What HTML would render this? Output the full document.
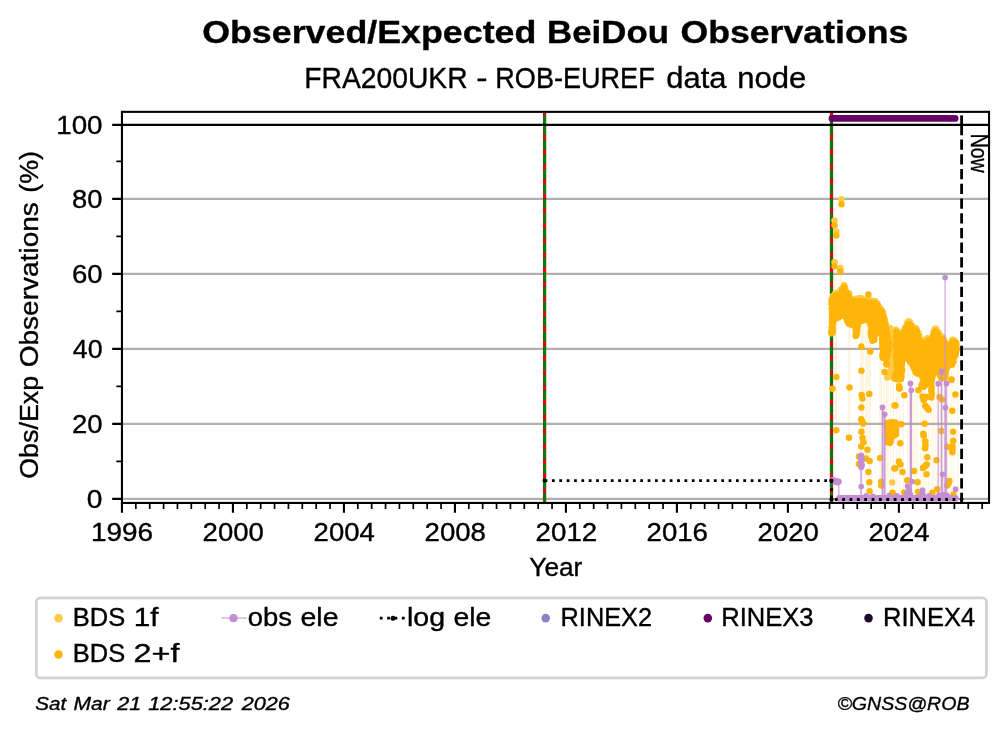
<!DOCTYPE html>
<html lang="en"><head><meta charset="utf-8"><title>Observed/Expected BeiDou Observations</title>
<style>
html,body{margin:0;padding:0;background:#fff;}
body{width:1008px;height:734px;overflow:hidden;}
svg{display:block;will-change:transform;font-family:"Liberation Sans",sans-serif;fill:#000;}
text{stroke:#000;stroke-width:.36px;stroke-linejoin:round;}
</style></head><body>
<svg width="1008" height="734" viewBox="0 0 1008 734">
<rect width="1008" height="734" fill="#fff"/>
<line x1="121.95" x2="989.05" y1="498.90" y2="498.90" stroke="#b0b0b0" stroke-width="2.1"/>
<line x1="121.95" x2="989.05" y1="423.90" y2="423.90" stroke="#b0b0b0" stroke-width="2.1"/>
<line x1="121.95" x2="989.05" y1="348.90" y2="348.90" stroke="#b0b0b0" stroke-width="2.1"/>
<line x1="121.95" x2="989.05" y1="273.90" y2="273.90" stroke="#b0b0b0" stroke-width="2.1"/>
<line x1="121.95" x2="989.05" y1="198.90" y2="198.90" stroke="#b0b0b0" stroke-width="2.1"/>
<line x1="544.6" x2="544.6" y1="112.9" y2="502" stroke="#E2001A" stroke-width="3.3"/>
<line x1="544.6" x2="544.6" y1="124.85" y2="115.4" stroke="#008000" stroke-width="2.8"/>
<line x1="544.6" x2="544.6" y1="124.85" y2="502.4" stroke="#008000" stroke-width="2.8" stroke-dasharray="10.28 4.44"/>
<line x1="831.5" x2="831.5" y1="112.9" y2="502" stroke="#E2001A" stroke-width="3.3"/>
<line x1="831.5" x2="831.5" y1="124.85" y2="115.4" stroke="#008000" stroke-width="2.8"/>
<line x1="831.5" x2="831.5" y1="124.85" y2="502.4" stroke="#008000" stroke-width="2.8" stroke-dasharray="10.28 4.44"/>
<path d="M835.3 322V430M836.5 322V430M848.8 322V437.5M849.6 322V437.5M860.8 322V464M862.0 322V464M863.1 322V446M866.0 322V458M867.4 322V450M869.0 322V491M870.4 322V482M879.8 350V485M881.3 350V485M884.1 350V493M886.5 372V493M888.0 372V482M890.8 372V493M841.4 205V300M836.4 236V300M834.5 226V300M840.4 272V300M893.6 352V498.9M896.8 352V498.9M899.6 352V498.9M903.4 352V498.9M907.8 352V498.9M910.2 352V498.9M912.6 352V498.9M915.2 352V498.9M917.6 352V498.9M920.8 352V498.9M923.4 352V498.9M925.8 352V498.9M928.4 352V498.9M931.2 352V498.9M933.6 352V498.9M936.0 352V498.9M939.8 352V498.9M943.6 352V498.9M946.0 352V498.9M948.8 352V498.9M951.2 352V498.9M953.8 352V498.9M957.6 352V498.9" stroke="#FDB50A" stroke-opacity="0.135" stroke-width="1.25" fill="none"/>
<polygon points="831.8,298.0 832.6,295.9 833.5,294.8 834.9,293.4 835.9,293.0 838.1,292.2 840.8,289.7 842.3,287.9 843.7,285.7 844.5,285.0 843.7,285.6 843.9,286.5 845.1,288.5 846.2,290.5 848.2,292.8 848.8,293.3 849.4,295.5 853.8,298.7 856.0,298.1 857.6,298.2 859.9,298.3 861.5,298.7 863.7,299.4 866.2,300.0 868.5,300.3 870.8,300.7 870.9,301.2 876.0,302.0 875.1,300.9 876.9,302.3 877.5,303.0 878.4,305.1 880.2,307.7 881.8,309.4 882.2,310.5 883.0,312.6 883.5,314.5 884.0,316.7 884.5,319.0 885.1,321.3 885.6,323.5 886.2,325.8 886.8,328.0 887.4,330.3 887.8,332.1 888.0,334.4 888.3,336.7 888.5,338.7 888.6,341.0 888.6,343.3 888.7,345.6 888.6,347.5 888.3,349.8 888.1,352.1 887.7,353.4 886.7,355.5 886.8,355.6 885.2,356.2 884.8,356.9 882.9,355.5 883.4,354.9 882.9,352.7 882.7,350.9 882.7,348.6 882.6,346.3 882.5,344.0 882.5,341.7 882.4,339.4 882.3,337.1 882.2,334.8 879.6,331.2 874.7,334.7 873.9,336.7 874.3,337.3 872.3,338.4 872.8,337.7 872.6,337.6 871.7,335.4 871.5,334.0 871.4,331.7 871.2,329.4 871.1,327.0 870.8,324.7 870.6,322.5 868.2,318.7 863.8,318.4 861.6,319.2 858.9,321.6 857.5,325.2 857.3,327.5 857.2,329.4 856.7,331.6 856.1,333.9 855.6,333.6 856.4,333.0 856.8,332.9 856.4,330.6 856.2,328.7 856.0,326.4 851.9,323.1 850.7,322.7 848.7,321.7 848.7,321.2 847.8,319.1 846.9,317.1 846.1,315.0 844.3,312.1 840.1,313.7 838.0,314.9 836.0,316.2 833.7,319.6 833.2,321.8 832.7,324.5 832.5,326.8 832.3,328.7 831.8,330.9 831.5,331.0 832.7,330.9 832.6,330.7 832.0,328.5 832.0,326.8 832.0,324.5 832.0,322.2 832.0,319.9 832.0,317.6 832.0,315.3 832.0,313.0 832.0,310.7 832.0,308.4 832.0,306.1 832.0,303.8 832.0,301.5 832.0,299.2" fill="#FFCB47" stroke="#FFCB47" stroke-width="2.5" stroke-linejoin="round"/>
<g fill="#FFCB47"><circle cx="831.8" cy="298.0" r="3.0"/><circle cx="832.7" cy="295.9" r="3.0"/><circle cx="833.9" cy="295.2" r="3.0"/><circle cx="834.8" cy="293.4" r="3.0"/><circle cx="835.9" cy="293.0" r="3.0"/><circle cx="838.1" cy="292.3" r="3.0"/><circle cx="840.5" cy="289.4" r="3.0"/><circle cx="842.3" cy="288.0" r="3.0"/><circle cx="843.9" cy="285.8" r="3.0"/><circle cx="844.7" cy="285.4" r="3.0"/><circle cx="844.0" cy="285.1" r="3.0"/><circle cx="844.1" cy="286.3" r="3.0"/><circle cx="845.6" cy="288.2" r="3.0"/><circle cx="845.8" cy="290.7" r="3.0"/><circle cx="848.0" cy="293.0" r="3.0"/><circle cx="849.5" cy="293.1" r="3.0"/><circle cx="848.8" cy="295.7" r="3.0"/><circle cx="854.0" cy="299.4" r="3.0"/><circle cx="856.1" cy="298.4" r="3.0"/><circle cx="857.6" cy="298.4" r="3.0"/><circle cx="859.9" cy="297.8" r="3.0"/><circle cx="861.6" cy="298.1" r="3.0"/><circle cx="863.7" cy="299.4" r="3.0"/><circle cx="866.3" cy="299.4" r="3.0"/><circle cx="868.6" cy="299.9" r="3.0"/><circle cx="870.8" cy="300.3" r="3.0"/><circle cx="871.4" cy="300.8" r="3.0"/><circle cx="876.0" cy="301.9" r="3.0"/><circle cx="875.1" cy="300.8" r="3.0"/><circle cx="876.6" cy="302.7" r="3.0"/><circle cx="877.4" cy="303.0" r="3.0"/><circle cx="878.2" cy="305.2" r="3.0"/><circle cx="880.2" cy="307.7" r="3.0"/><circle cx="881.6" cy="309.5" r="3.0"/><circle cx="882.2" cy="310.5" r="3.0"/><circle cx="883.3" cy="312.5" r="3.0"/><circle cx="882.9" cy="314.6" r="3.0"/><circle cx="883.4" cy="316.9" r="3.0"/><circle cx="884.1" cy="319.1" r="3.0"/><circle cx="884.8" cy="321.3" r="3.0"/><circle cx="885.9" cy="323.5" r="3.0"/><circle cx="886.6" cy="325.7" r="3.0"/><circle cx="887.1" cy="328.0" r="3.0"/><circle cx="888.0" cy="330.1" r="3.0"/><circle cx="887.4" cy="332.1" r="3.0"/><circle cx="888.1" cy="334.4" r="3.0"/><circle cx="887.8" cy="336.7" r="3.0"/><circle cx="888.7" cy="338.7" r="3.0"/><circle cx="887.9" cy="341.0" r="3.0"/><circle cx="888.1" cy="343.3" r="3.0"/><circle cx="889.4" cy="345.6" r="3.0"/><circle cx="889.0" cy="347.6" r="3.0"/><circle cx="887.7" cy="349.8" r="3.0"/><circle cx="888.1" cy="352.1" r="3.0"/><circle cx="887.1" cy="353.1" r="3.0"/><circle cx="886.8" cy="355.5" r="3.0"/><circle cx="887.0" cy="356.2" r="3.0"/><circle cx="885.2" cy="356.0" r="3.0"/><circle cx="885.0" cy="356.6" r="3.0"/><circle cx="882.7" cy="355.8" r="3.0"/><circle cx="882.8" cy="355.0" r="3.0"/><circle cx="882.7" cy="352.7" r="3.0"/><circle cx="883.4" cy="350.9" r="3.0"/><circle cx="883.0" cy="348.6" r="3.0"/><circle cx="882.1" cy="346.3" r="3.0"/><circle cx="882.2" cy="344.0" r="3.0"/><circle cx="881.9" cy="341.7" r="3.0"/><circle cx="881.8" cy="339.4" r="3.0"/><circle cx="882.7" cy="337.1" r="3.0"/><circle cx="881.8" cy="334.8" r="3.0"/><circle cx="879.7" cy="331.2" r="3.0"/><circle cx="874.7" cy="334.7" r="3.0"/><circle cx="874.3" cy="336.9" r="3.0"/><circle cx="874.2" cy="337.0" r="3.0"/><circle cx="872.5" cy="338.9" r="3.0"/><circle cx="872.9" cy="337.6" r="3.0"/><circle cx="872.1" cy="337.8" r="3.0"/><circle cx="871.6" cy="335.5" r="3.0"/><circle cx="871.1" cy="334.0" r="3.0"/><circle cx="871.0" cy="331.7" r="3.0"/><circle cx="871.9" cy="329.4" r="3.0"/><circle cx="871.5" cy="327.0" r="3.0"/><circle cx="870.6" cy="324.8" r="3.0"/><circle cx="871.1" cy="322.4" r="3.0"/><circle cx="868.0" cy="319.0" r="3.0"/><circle cx="863.8" cy="318.6" r="3.0"/><circle cx="861.5" cy="318.8" r="3.0"/><circle cx="858.8" cy="321.5" r="3.0"/><circle cx="858.1" cy="325.2" r="3.0"/><circle cx="856.7" cy="327.4" r="3.0"/><circle cx="857.6" cy="329.5" r="3.0"/><circle cx="857.0" cy="331.7" r="3.0"/><circle cx="855.8" cy="333.8" r="3.0"/><circle cx="855.7" cy="333.8" r="3.0"/><circle cx="856.3" cy="333.2" r="3.0"/><circle cx="856.2" cy="333.0" r="3.0"/><circle cx="855.8" cy="330.7" r="3.0"/><circle cx="856.3" cy="328.7" r="3.0"/><circle cx="855.7" cy="326.4" r="3.0"/><circle cx="851.9" cy="322.9" r="3.0"/><circle cx="850.7" cy="322.9" r="3.0"/><circle cx="848.7" cy="321.7" r="3.0"/><circle cx="849.3" cy="320.9" r="3.0"/><circle cx="847.7" cy="319.1" r="3.0"/><circle cx="847.0" cy="317.1" r="3.0"/><circle cx="846.6" cy="314.8" r="3.0"/><circle cx="844.0" cy="312.4" r="3.0"/><circle cx="840.3" cy="314.1" r="3.0"/><circle cx="837.6" cy="314.4" r="3.0"/><circle cx="835.8" cy="315.8" r="3.0"/><circle cx="834.0" cy="319.7" r="3.0"/><circle cx="833.6" cy="321.9" r="3.0"/><circle cx="832.4" cy="324.5" r="3.0"/><circle cx="831.9" cy="326.7" r="3.0"/><circle cx="832.7" cy="328.8" r="3.0"/><circle cx="831.2" cy="330.7" r="3.0"/><circle cx="831.2" cy="330.5" r="3.0"/><circle cx="832.8" cy="330.8" r="3.0"/><circle cx="832.5" cy="330.7" r="3.0"/><circle cx="831.5" cy="328.6" r="3.0"/><circle cx="831.4" cy="326.8" r="3.0"/><circle cx="832.6" cy="324.5" r="3.0"/><circle cx="831.6" cy="322.2" r="3.0"/><circle cx="832.3" cy="319.9" r="3.0"/><circle cx="831.7" cy="317.6" r="3.0"/><circle cx="832.5" cy="315.3" r="3.0"/><circle cx="832.1" cy="313.0" r="3.0"/><circle cx="831.7" cy="310.7" r="3.0"/><circle cx="831.5" cy="308.4" r="3.0"/><circle cx="832.3" cy="306.1" r="3.0"/><circle cx="831.4" cy="303.8" r="3.0"/><circle cx="831.6" cy="301.5" r="3.0"/><circle cx="832.1" cy="299.2" r="3.0"/></g>
<polygon points="896.1,337.9 896.3,335.6 896.4,334.0 897.3,331.9 897.5,331.0 895.8,329.6 897.5,331.1 897.7,332.2 903.5,331.1 904.2,329.2 905.2,327.1 906.2,325.2 907.3,323.2 908.0,322.1 908.5,321.5 909.3,321.4 909.7,322.0 910.6,323.6 911.7,325.7 915.8,327.9 915.7,327.8 916.5,328.8 917.2,331.0 918.1,333.4 919.0,335.5 920.2,337.8 925.2,339.7 927.4,338.6 929.4,337.7 932.5,335.1 933.5,333.1 934.4,330.6 934.9,329.4 935.0,328.7 936.0,328.7 936.0,329.0 937.2,330.8 938.3,332.6 940.5,335.8 942.5,336.9 942.9,337.1 943.8,339.2 944.5,341.2 950.1,343.4 951.5,341.5 952.7,340.1 953.3,339.5 954.1,339.5 954.9,340.1 955.6,341.0 956.2,342.3 956.4,344.6 956.4,346.4 956.3,348.7 956.1,350.5 955.6,352.7 954.9,353.7 953.6,356.9 953.1,359.2 952.6,360.5 952.2,361.6 951.9,362.4 947.3,364.7 946.7,367.0 946.1,369.4 945.7,371.7 945.3,374.0 944.6,375.0 944.9,375.3 942.7,375.7 941.6,375.7 941.4,375.8 940.3,373.8 939.8,372.3 939.2,370.1 933.4,371.1 932.9,373.3 932.4,375.6 931.9,377.8 931.9,377.2 931.6,377.1 930.6,376.9 925.9,375.3 924.8,375.9 922.5,375.9 922.4,375.4 922.3,374.5 918.5,371.7 917.3,371.4 915.4,370.1 915.4,369.5 914.4,367.0 913.3,365.0 912.1,362.8 910.8,360.9 909.8,359.0 904.2,357.2 902.5,360.4 902.1,362.6 901.8,364.9 901.7,367.6 901.6,369.9 901.6,372.2 901.5,373.8 900.9,376.0 900.6,376.4 900.3,376.9 898.0,376.9 897.2,376.6 896.5,376.5 895.6,374.4 895.7,373.5 896.0,371.3 896.6,370.6 897.4,366.7 897.2,364.4 897.1,362.0 896.8,359.7 896.6,357.5 896.4,355.2 896.1,352.9 896.1,350.8 896.1,348.5 896.1,346.2 896.1,343.9 896.1,341.6 896.1,339.3" fill="#FFCB47" stroke="#FFCB47" stroke-width="2.5" stroke-linejoin="round"/>
<g fill="#FFCB47"><circle cx="896.0" cy="337.9" r="3.0"/><circle cx="896.6" cy="335.6" r="3.0"/><circle cx="896.7" cy="334.1" r="3.0"/><circle cx="896.8" cy="331.7" r="3.0"/><circle cx="897.0" cy="330.4" r="3.0"/><circle cx="895.9" cy="329.5" r="3.0"/><circle cx="897.7" cy="330.9" r="3.0"/><circle cx="897.3" cy="332.4" r="3.0"/><circle cx="903.8" cy="331.2" r="3.0"/><circle cx="904.3" cy="329.3" r="3.0"/><circle cx="905.2" cy="327.2" r="3.0"/><circle cx="906.4" cy="325.4" r="3.0"/><circle cx="906.8" cy="323.0" r="3.0"/><circle cx="907.9" cy="322.0" r="3.0"/><circle cx="908.4" cy="321.0" r="3.0"/><circle cx="909.1" cy="321.9" r="3.0"/><circle cx="910.2" cy="321.7" r="3.0"/><circle cx="910.2" cy="323.8" r="3.0"/><circle cx="912.2" cy="325.4" r="3.0"/><circle cx="915.8" cy="328.2" r="3.0"/><circle cx="915.9" cy="327.7" r="3.0"/><circle cx="916.7" cy="328.8" r="3.0"/><circle cx="916.7" cy="331.2" r="3.0"/><circle cx="918.7" cy="333.1" r="3.0"/><circle cx="919.5" cy="335.3" r="3.0"/><circle cx="919.6" cy="338.1" r="3.0"/><circle cx="925.2" cy="339.7" r="3.0"/><circle cx="927.2" cy="338.1" r="3.0"/><circle cx="929.7" cy="338.3" r="3.0"/><circle cx="933.0" cy="335.4" r="3.0"/><circle cx="933.0" cy="332.8" r="3.0"/><circle cx="934.3" cy="330.5" r="3.0"/><circle cx="934.5" cy="329.0" r="3.0"/><circle cx="935.0" cy="328.5" r="3.0"/><circle cx="936.0" cy="328.8" r="3.0"/><circle cx="936.4" cy="328.7" r="3.0"/><circle cx="936.9" cy="330.9" r="3.0"/><circle cx="938.8" cy="332.4" r="3.0"/><circle cx="940.7" cy="335.4" r="3.0"/><circle cx="942.3" cy="337.3" r="3.0"/><circle cx="943.0" cy="337.1" r="3.0"/><circle cx="943.9" cy="339.2" r="3.0"/><circle cx="944.4" cy="341.2" r="3.0"/><circle cx="950.1" cy="343.4" r="3.0"/><circle cx="951.3" cy="341.4" r="3.0"/><circle cx="952.2" cy="339.6" r="3.0"/><circle cx="953.3" cy="339.8" r="3.0"/><circle cx="953.9" cy="340.1" r="3.0"/><circle cx="954.4" cy="340.6" r="3.0"/><circle cx="955.4" cy="341.1" r="3.0"/><circle cx="956.4" cy="342.3" r="3.0"/><circle cx="956.6" cy="344.6" r="3.0"/><circle cx="956.2" cy="346.4" r="3.0"/><circle cx="956.1" cy="348.7" r="3.0"/><circle cx="956.7" cy="350.6" r="3.0"/><circle cx="955.9" cy="352.8" r="3.0"/><circle cx="955.0" cy="353.9" r="3.0"/><circle cx="953.6" cy="356.9" r="3.0"/><circle cx="952.7" cy="359.1" r="3.0"/><circle cx="952.6" cy="360.5" r="3.0"/><circle cx="952.6" cy="362.2" r="3.0"/><circle cx="951.9" cy="361.9" r="3.0"/><circle cx="947.4" cy="364.8" r="3.0"/><circle cx="946.6" cy="366.9" r="3.0"/><circle cx="946.5" cy="369.5" r="3.0"/><circle cx="945.8" cy="371.7" r="3.0"/><circle cx="945.4" cy="374.0" r="3.0"/><circle cx="944.3" cy="374.8" r="3.0"/><circle cx="945.0" cy="375.9" r="3.0"/><circle cx="942.6" cy="375.7" r="3.0"/><circle cx="941.5" cy="376.1" r="3.0"/><circle cx="941.6" cy="375.7" r="3.0"/><circle cx="939.7" cy="374.1" r="3.0"/><circle cx="939.5" cy="372.4" r="3.0"/><circle cx="939.0" cy="370.1" r="3.0"/><circle cx="933.2" cy="371.0" r="3.0"/><circle cx="933.5" cy="373.5" r="3.0"/><circle cx="932.5" cy="375.6" r="3.0"/><circle cx="932.3" cy="377.9" r="3.0"/><circle cx="932.0" cy="377.5" r="3.0"/><circle cx="931.6" cy="377.2" r="3.0"/><circle cx="931.1" cy="376.4" r="3.0"/><circle cx="926.0" cy="375.3" r="3.0"/><circle cx="924.8" cy="375.3" r="3.0"/><circle cx="922.5" cy="376.4" r="3.0"/><circle cx="922.8" cy="374.9" r="3.0"/><circle cx="922.1" cy="374.6" r="3.0"/><circle cx="918.4" cy="372.1" r="3.0"/><circle cx="917.5" cy="371.1" r="3.0"/><circle cx="915.7" cy="369.6" r="3.0"/><circle cx="914.8" cy="369.7" r="3.0"/><circle cx="914.1" cy="367.2" r="3.0"/><circle cx="913.6" cy="364.8" r="3.0"/><circle cx="911.9" cy="363.0" r="3.0"/><circle cx="910.5" cy="361.1" r="3.0"/><circle cx="909.2" cy="359.4" r="3.0"/><circle cx="904.7" cy="357.6" r="3.0"/><circle cx="902.4" cy="360.3" r="3.0"/><circle cx="901.5" cy="362.5" r="3.0"/><circle cx="901.1" cy="364.8" r="3.0"/><circle cx="901.7" cy="367.6" r="3.0"/><circle cx="902.3" cy="369.9" r="3.0"/><circle cx="901.9" cy="372.2" r="3.0"/><circle cx="901.1" cy="373.7" r="3.0"/><circle cx="900.4" cy="375.9" r="3.0"/><circle cx="900.5" cy="376.2" r="3.0"/><circle cx="900.3" cy="377.3" r="3.0"/><circle cx="898.0" cy="376.9" r="3.0"/><circle cx="897.2" cy="376.6" r="3.0"/><circle cx="896.7" cy="376.4" r="3.0"/><circle cx="895.3" cy="374.6" r="3.0"/><circle cx="896.4" cy="373.6" r="3.0"/><circle cx="896.5" cy="371.3" r="3.0"/><circle cx="896.2" cy="370.3" r="3.0"/><circle cx="897.1" cy="366.7" r="3.0"/><circle cx="897.8" cy="364.4" r="3.0"/><circle cx="896.7" cy="362.1" r="3.0"/><circle cx="897.4" cy="359.7" r="3.0"/><circle cx="896.6" cy="357.5" r="3.0"/><circle cx="896.6" cy="355.1" r="3.0"/><circle cx="896.4" cy="352.8" r="3.0"/><circle cx="895.7" cy="350.8" r="3.0"/><circle cx="895.8" cy="348.5" r="3.0"/><circle cx="895.8" cy="346.2" r="3.0"/><circle cx="896.4" cy="343.9" r="3.0"/><circle cx="896.4" cy="341.6" r="3.0"/><circle cx="895.6" cy="339.3" r="3.0"/></g>
<polygon points="888.4,329.6 890.6,328.9 889.5,329.7 890.4,330.2 891.0,332.5 891.6,334.7 892.1,336.2 892.1,338.5 892.2,340.8 892.2,343.1 892.2,345.4 892.2,347.7 892.3,350.0 892.3,352.2 892.2,354.5 892.2,356.8 892.1,359.1 892.0,361.4 892.0,363.7 891.9,365.6 891.6,367.9 891.2,370.2 890.9,372.5 890.9,373.5 889.6,375.4 891.1,375.1 891.2,375.9 890.8,373.6 890.5,371.3 890.3,369.7 890.5,367.4 890.8,365.1 891.0,362.8 891.2,360.5 891.3,358.1 891.3,355.8 891.4,353.5 891.5,351.2 891.6,348.9 891.6,346.6 891.6,344.0 891.5,341.7 891.3,339.4 891.1,337.1 890.9,334.8 890.7,332.5 890.6,330.2 890.4,327.9" fill="#FFCB47" stroke="#FFCB47" stroke-width="2.5" stroke-linejoin="round"/>
<g fill="#FFCB47"><circle cx="888.3" cy="329.3" r="3.0"/><circle cx="890.6" cy="329.2" r="3.0"/><circle cx="889.3" cy="329.9" r="3.0"/><circle cx="889.9" cy="330.4" r="3.0"/><circle cx="891.4" cy="332.3" r="3.0"/><circle cx="892.0" cy="334.6" r="3.0"/><circle cx="892.6" cy="336.2" r="3.0"/><circle cx="892.5" cy="338.5" r="3.0"/><circle cx="891.8" cy="340.8" r="3.0"/><circle cx="892.7" cy="343.1" r="3.0"/><circle cx="892.2" cy="345.4" r="3.0"/><circle cx="892.6" cy="347.7" r="3.0"/><circle cx="892.6" cy="350.0" r="3.0"/><circle cx="892.4" cy="352.2" r="3.0"/><circle cx="891.8" cy="354.5" r="3.0"/><circle cx="892.0" cy="356.8" r="3.0"/><circle cx="892.8" cy="359.1" r="3.0"/><circle cx="892.3" cy="361.4" r="3.0"/><circle cx="892.5" cy="363.7" r="3.0"/><circle cx="891.4" cy="365.6" r="3.0"/><circle cx="891.1" cy="367.9" r="3.0"/><circle cx="890.8" cy="370.1" r="3.0"/><circle cx="890.4" cy="372.4" r="3.0"/><circle cx="890.7" cy="373.3" r="3.0"/><circle cx="889.1" cy="375.0" r="3.0"/><circle cx="891.2" cy="374.7" r="3.0"/><circle cx="890.8" cy="375.9" r="3.0"/><circle cx="891.3" cy="373.5" r="3.0"/><circle cx="890.5" cy="371.3" r="3.0"/><circle cx="890.7" cy="369.7" r="3.0"/><circle cx="890.6" cy="367.4" r="3.0"/><circle cx="890.7" cy="365.1" r="3.0"/><circle cx="890.8" cy="362.8" r="3.0"/><circle cx="891.1" cy="360.5" r="3.0"/><circle cx="891.0" cy="358.1" r="3.0"/><circle cx="890.8" cy="355.8" r="3.0"/><circle cx="891.9" cy="353.5" r="3.0"/><circle cx="891.9" cy="351.2" r="3.0"/><circle cx="892.3" cy="348.9" r="3.0"/><circle cx="891.9" cy="346.6" r="3.0"/><circle cx="891.7" cy="344.0" r="3.0"/><circle cx="891.8" cy="341.7" r="3.0"/><circle cx="890.8" cy="339.4" r="3.0"/><circle cx="891.3" cy="337.1" r="3.0"/><circle cx="890.8" cy="334.8" r="3.0"/><circle cx="890.3" cy="332.5" r="3.0"/><circle cx="890.1" cy="330.3" r="3.0"/><circle cx="890.4" cy="327.9" r="3.0"/></g>
<circle cx="841.4" cy="199.3" r="3.25" fill="#FFCB47"/>
<circle cx="834.5" cy="220.5" r="3.25" fill="#FFCB47"/>
<circle cx="836.4" cy="231.5" r="3.25" fill="#FFCB47"/>
<circle cx="834.5" cy="262.2" r="3.25" fill="#FFCB47"/>
<circle cx="840.4" cy="268.1" r="3.25" fill="#FFCB47"/>
<circle cx="889.6" cy="373.3" r="3.25" fill="#FFCB47"/>
<circle cx="887.4" cy="377.4" r="3.25" fill="#FFCB47"/>
<circle cx="892.2" cy="482.4" r="3.25" fill="#FFCB47"/>
<polygon points="831.8,300.4 832.6,298.3 833.5,297.2 834.9,295.8 835.9,295.4 838.1,294.6 840.8,292.1 842.3,290.3 843.7,288.1 844.5,287.4 843.7,288.0 843.9,288.9 845.1,290.9 846.2,292.9 848.2,295.2 848.8,295.7 849.4,297.9 853.8,301.1 856.0,300.5 857.6,300.6 859.9,300.7 861.5,301.1 863.7,301.8 866.2,302.4 868.5,302.7 870.8,303.1 870.9,303.6 876.0,304.4 875.1,303.3 876.9,304.7 877.5,305.4 878.4,307.5 880.2,310.1 881.8,311.8 882.2,312.9 883.0,315.0 883.5,316.9 884.0,319.1 884.5,321.4 885.1,323.7 885.6,325.9 886.2,328.2 886.8,330.4 887.4,332.7 887.8,334.5 888.0,336.8 888.3,339.1 888.5,341.1 888.6,343.4 888.6,345.7 888.7,348.0 888.6,349.9 888.3,352.2 888.1,354.5 887.7,355.8 886.7,357.9 886.8,358.0 885.2,358.6 884.8,359.3 882.9,357.9 883.4,357.3 882.9,355.1 882.7,353.3 882.7,351.0 882.6,348.7 882.5,346.4 882.5,344.1 882.4,341.8 882.3,339.5 882.2,337.2 879.6,333.6 874.7,337.1 873.9,339.1 874.3,339.7 872.3,340.8 872.8,340.1 872.6,340.0 871.7,337.8 871.5,336.4 871.4,334.1 871.2,331.8 871.1,329.4 870.8,327.1 870.6,324.9 868.2,321.1 863.8,320.8 861.6,321.6 858.9,324.0 857.5,327.6 857.3,329.9 857.2,331.8 856.7,334.0 856.1,336.3 855.6,336.0 856.4,335.4 856.8,335.3 856.4,333.0 856.2,331.1 856.0,328.8 851.9,325.5 850.7,325.1 848.7,324.1 848.7,323.6 847.8,321.5 846.9,319.5 846.1,317.4 844.3,314.5 840.1,316.1 838.0,317.3 836.0,318.6 833.7,322.0 833.2,324.2 832.7,326.9 832.5,329.2 832.3,331.1 831.8,333.3 831.5,333.4 832.7,333.3 832.6,333.1 832.0,330.9 832.0,329.2 832.0,326.9 832.0,324.6 832.0,322.3 832.0,320.0 832.0,317.7 832.0,315.4 832.0,313.1 832.0,310.8 832.0,308.5 832.0,306.2 832.0,303.9 832.0,301.6" fill="#FDB50A" stroke="#FDB50A" stroke-width="2.5" stroke-linejoin="round"/>
<g fill="#FDB50A"><circle cx="831.4" cy="300.3" r="3.0"/><circle cx="832.9" cy="298.4" r="3.0"/><circle cx="833.6" cy="297.4" r="3.0"/><circle cx="834.8" cy="295.8" r="3.0"/><circle cx="835.8" cy="295.0" r="3.0"/><circle cx="838.2" cy="295.0" r="3.0"/><circle cx="841.1" cy="292.4" r="3.0"/><circle cx="842.3" cy="290.4" r="3.0"/><circle cx="843.7" cy="288.1" r="3.0"/><circle cx="844.3" cy="287.1" r="3.0"/><circle cx="844.0" cy="287.4" r="3.0"/><circle cx="844.1" cy="288.8" r="3.0"/><circle cx="844.9" cy="290.9" r="3.0"/><circle cx="846.7" cy="292.6" r="3.0"/><circle cx="847.9" cy="295.5" r="3.0"/><circle cx="849.2" cy="295.6" r="3.0"/><circle cx="849.8" cy="297.8" r="3.0"/><circle cx="853.7" cy="300.5" r="3.0"/><circle cx="856.2" cy="301.2" r="3.0"/><circle cx="857.6" cy="301.0" r="3.0"/><circle cx="859.9" cy="301.2" r="3.0"/><circle cx="861.4" cy="301.3" r="3.0"/><circle cx="863.9" cy="301.1" r="3.0"/><circle cx="866.3" cy="302.1" r="3.0"/><circle cx="868.5" cy="302.7" r="3.0"/><circle cx="870.8" cy="302.6" r="3.0"/><circle cx="870.4" cy="304.1" r="3.0"/><circle cx="875.9" cy="304.2" r="3.0"/><circle cx="875.3" cy="302.9" r="3.0"/><circle cx="876.6" cy="305.0" r="3.0"/><circle cx="877.9" cy="305.2" r="3.0"/><circle cx="877.9" cy="307.8" r="3.0"/><circle cx="880.2" cy="310.0" r="3.0"/><circle cx="881.7" cy="311.8" r="3.0"/><circle cx="882.4" cy="312.8" r="3.0"/><circle cx="883.0" cy="315.0" r="3.0"/><circle cx="884.0" cy="316.8" r="3.0"/><circle cx="884.7" cy="319.0" r="3.0"/><circle cx="884.0" cy="321.5" r="3.0"/><circle cx="885.4" cy="323.6" r="3.0"/><circle cx="885.2" cy="326.0" r="3.0"/><circle cx="886.6" cy="328.1" r="3.0"/><circle cx="886.2" cy="330.6" r="3.0"/><circle cx="886.9" cy="332.8" r="3.0"/><circle cx="887.4" cy="334.5" r="3.0"/><circle cx="887.6" cy="336.8" r="3.0"/><circle cx="888.2" cy="339.1" r="3.0"/><circle cx="888.2" cy="341.1" r="3.0"/><circle cx="889.1" cy="343.4" r="3.0"/><circle cx="888.7" cy="345.7" r="3.0"/><circle cx="888.2" cy="348.0" r="3.0"/><circle cx="889.0" cy="350.0" r="3.0"/><circle cx="887.7" cy="352.2" r="3.0"/><circle cx="887.5" cy="354.4" r="3.0"/><circle cx="887.8" cy="355.9" r="3.0"/><circle cx="886.8" cy="358.0" r="3.0"/><circle cx="886.8" cy="358.1" r="3.0"/><circle cx="885.2" cy="358.8" r="3.0"/><circle cx="885.2" cy="358.8" r="3.0"/><circle cx="882.8" cy="358.1" r="3.0"/><circle cx="882.7" cy="357.5" r="3.0"/><circle cx="882.3" cy="355.2" r="3.0"/><circle cx="883.1" cy="353.3" r="3.0"/><circle cx="883.4" cy="351.0" r="3.0"/><circle cx="882.6" cy="348.7" r="3.0"/><circle cx="882.5" cy="346.4" r="3.0"/><circle cx="882.5" cy="344.1" r="3.0"/><circle cx="882.7" cy="341.8" r="3.0"/><circle cx="881.9" cy="339.5" r="3.0"/><circle cx="882.4" cy="337.2" r="3.0"/><circle cx="879.7" cy="333.6" r="3.0"/><circle cx="874.5" cy="337.0" r="3.0"/><circle cx="874.4" cy="339.3" r="3.0"/><circle cx="874.5" cy="340.1" r="3.0"/><circle cx="872.4" cy="341.0" r="3.0"/><circle cx="873.1" cy="339.6" r="3.0"/><circle cx="872.4" cy="340.0" r="3.0"/><circle cx="871.9" cy="337.8" r="3.0"/><circle cx="871.2" cy="336.4" r="3.0"/><circle cx="870.8" cy="334.2" r="3.0"/><circle cx="870.6" cy="331.9" r="3.0"/><circle cx="871.5" cy="329.4" r="3.0"/><circle cx="871.2" cy="327.1" r="3.0"/><circle cx="870.4" cy="324.9" r="3.0"/><circle cx="868.3" cy="320.9" r="3.0"/><circle cx="863.7" cy="320.6" r="3.0"/><circle cx="861.4" cy="321.1" r="3.0"/><circle cx="858.4" cy="323.6" r="3.0"/><circle cx="857.6" cy="327.6" r="3.0"/><circle cx="856.7" cy="329.8" r="3.0"/><circle cx="856.6" cy="331.6" r="3.0"/><circle cx="856.5" cy="334.0" r="3.0"/><circle cx="855.6" cy="336.1" r="3.0"/><circle cx="855.6" cy="336.0" r="3.0"/><circle cx="856.4" cy="335.5" r="3.0"/><circle cx="856.5" cy="335.4" r="3.0"/><circle cx="856.9" cy="332.9" r="3.0"/><circle cx="855.7" cy="331.1" r="3.0"/><circle cx="855.4" cy="328.9" r="3.0"/><circle cx="851.9" cy="325.1" r="3.0"/><circle cx="850.9" cy="324.8" r="3.0"/><circle cx="848.7" cy="324.1" r="3.0"/><circle cx="849.1" cy="323.4" r="3.0"/><circle cx="847.2" cy="321.7" r="3.0"/><circle cx="846.6" cy="319.6" r="3.0"/><circle cx="845.9" cy="317.5" r="3.0"/><circle cx="844.2" cy="314.6" r="3.0"/><circle cx="840.3" cy="316.5" r="3.0"/><circle cx="838.3" cy="317.8" r="3.0"/><circle cx="836.1" cy="318.7" r="3.0"/><circle cx="833.1" cy="321.8" r="3.0"/><circle cx="832.5" cy="324.1" r="3.0"/><circle cx="832.4" cy="326.9" r="3.0"/><circle cx="832.6" cy="329.2" r="3.0"/><circle cx="832.7" cy="331.1" r="3.0"/><circle cx="831.2" cy="333.1" r="3.0"/><circle cx="831.5" cy="333.4" r="3.0"/><circle cx="832.9" cy="333.0" r="3.0"/><circle cx="831.9" cy="333.3" r="3.0"/><circle cx="831.7" cy="331.0" r="3.0"/><circle cx="832.5" cy="329.2" r="3.0"/><circle cx="832.4" cy="326.9" r="3.0"/><circle cx="832.5" cy="324.6" r="3.0"/><circle cx="832.1" cy="322.3" r="3.0"/><circle cx="831.9" cy="320.0" r="3.0"/><circle cx="832.1" cy="317.7" r="3.0"/><circle cx="832.5" cy="315.4" r="3.0"/><circle cx="831.7" cy="313.1" r="3.0"/><circle cx="832.0" cy="310.8" r="3.0"/><circle cx="831.7" cy="308.5" r="3.0"/><circle cx="832.4" cy="306.2" r="3.0"/><circle cx="831.3" cy="303.9" r="3.0"/><circle cx="832.3" cy="301.6" r="3.0"/></g>
<polygon points="896.1,340.3 896.3,338.0 896.4,336.4 897.3,334.3 897.5,333.4 895.8,332.0 897.5,333.5 897.7,334.6 903.5,333.5 904.2,331.6 905.2,329.5 906.2,327.6 907.3,325.6 908.0,324.5 908.5,323.9 909.3,323.8 909.7,324.4 910.6,326.0 911.7,328.1 915.8,330.3 915.7,330.2 916.5,331.2 917.2,333.4 918.1,335.8 919.0,337.9 920.2,340.2 925.2,342.1 927.4,341.0 929.4,340.1 932.5,337.5 933.5,335.5 934.4,333.0 934.9,331.8 935.0,331.1 936.0,331.1 936.0,331.4 937.2,333.2 938.3,335.0 940.5,338.2 942.5,339.3 942.9,339.5 943.8,341.6 944.5,343.6 950.1,345.8 951.5,343.9 952.7,342.5 953.3,341.9 954.1,341.9 954.9,342.5 955.6,343.4 956.2,344.7 956.4,347.0 956.4,348.8 956.3,351.1 956.1,352.9 955.6,355.1 954.9,356.1 953.6,359.3 953.1,361.6 952.6,362.9 952.2,364.0 951.9,364.8 947.3,367.1 946.7,369.4 946.1,371.8 945.7,374.1 945.3,376.4 944.6,377.4 944.9,377.7 942.7,378.1 941.6,378.1 941.4,378.2 940.3,376.2 939.8,374.7 939.2,372.5 933.4,373.5 932.9,375.7 932.4,378.0 931.9,380.2 931.9,379.6 931.6,379.5 930.6,379.3 925.9,377.7 924.8,378.3 922.5,378.3 922.4,377.8 922.3,376.9 918.5,374.1 917.3,373.8 915.4,372.5 915.4,371.9 914.4,369.4 913.3,367.4 912.1,365.2 910.8,363.3 909.8,361.4 904.2,359.6 902.5,362.8 902.1,365.0 901.8,367.3 901.7,370.0 901.6,372.3 901.6,374.6 901.5,376.2 900.9,378.4 900.6,378.8 900.3,379.3 898.0,379.3 897.2,379.0 896.5,378.9 895.6,376.8 895.7,375.9 896.0,373.7 896.6,373.0 897.4,369.1 897.2,366.8 897.1,364.4 896.8,362.1 896.6,359.9 896.4,357.6 896.1,355.3 896.1,353.2 896.1,350.9 896.1,348.6 896.1,346.3 896.1,344.0 896.1,341.7" fill="#FDB50A" stroke="#FDB50A" stroke-width="2.5" stroke-linejoin="round"/>
<g fill="#FDB50A"><circle cx="896.7" cy="340.4" r="3.0"/><circle cx="895.8" cy="338.0" r="3.0"/><circle cx="895.8" cy="336.2" r="3.0"/><circle cx="897.9" cy="334.6" r="3.0"/><circle cx="897.2" cy="333.0" r="3.0"/><circle cx="896.1" cy="331.6" r="3.0"/><circle cx="897.4" cy="333.7" r="3.0"/><circle cx="897.9" cy="334.6" r="3.0"/><circle cx="904.0" cy="333.7" r="3.0"/><circle cx="903.9" cy="331.4" r="3.0"/><circle cx="905.8" cy="329.8" r="3.0"/><circle cx="905.9" cy="327.5" r="3.0"/><circle cx="907.4" cy="325.7" r="3.0"/><circle cx="908.4" cy="324.9" r="3.0"/><circle cx="908.5" cy="324.1" r="3.0"/><circle cx="909.1" cy="324.4" r="3.0"/><circle cx="909.5" cy="324.6" r="3.0"/><circle cx="911.2" cy="325.7" r="3.0"/><circle cx="911.2" cy="328.3" r="3.0"/><circle cx="915.8" cy="330.4" r="3.0"/><circle cx="915.9" cy="330.1" r="3.0"/><circle cx="917.0" cy="331.1" r="3.0"/><circle cx="916.7" cy="333.6" r="3.0"/><circle cx="918.0" cy="335.8" r="3.0"/><circle cx="918.4" cy="338.2" r="3.0"/><circle cx="919.8" cy="340.4" r="3.0"/><circle cx="925.4" cy="342.7" r="3.0"/><circle cx="927.5" cy="341.1" r="3.0"/><circle cx="929.5" cy="340.3" r="3.0"/><circle cx="932.6" cy="337.6" r="3.0"/><circle cx="933.2" cy="335.3" r="3.0"/><circle cx="935.0" cy="333.2" r="3.0"/><circle cx="934.7" cy="331.6" r="3.0"/><circle cx="935.1" cy="331.5" r="3.0"/><circle cx="935.9" cy="331.7" r="3.0"/><circle cx="935.8" cy="331.5" r="3.0"/><circle cx="937.6" cy="332.9" r="3.0"/><circle cx="937.9" cy="335.3" r="3.0"/><circle cx="940.4" cy="338.4" r="3.0"/><circle cx="942.7" cy="338.9" r="3.0"/><circle cx="943.4" cy="339.3" r="3.0"/><circle cx="943.8" cy="341.7" r="3.0"/><circle cx="945.1" cy="343.3" r="3.0"/><circle cx="950.6" cy="346.1" r="3.0"/><circle cx="951.5" cy="343.9" r="3.0"/><circle cx="952.7" cy="342.5" r="3.0"/><circle cx="953.2" cy="341.8" r="3.0"/><circle cx="954.0" cy="342.1" r="3.0"/><circle cx="954.5" cy="342.9" r="3.0"/><circle cx="955.8" cy="343.3" r="3.0"/><circle cx="956.3" cy="344.7" r="3.0"/><circle cx="956.3" cy="347.0" r="3.0"/><circle cx="956.7" cy="348.9" r="3.0"/><circle cx="956.2" cy="351.1" r="3.0"/><circle cx="956.1" cy="352.9" r="3.0"/><circle cx="955.7" cy="355.2" r="3.0"/><circle cx="954.7" cy="356.0" r="3.0"/><circle cx="953.5" cy="359.3" r="3.0"/><circle cx="953.7" cy="361.7" r="3.0"/><circle cx="952.0" cy="362.6" r="3.0"/><circle cx="952.3" cy="364.2" r="3.0"/><circle cx="951.9" cy="364.9" r="3.0"/><circle cx="947.4" cy="367.2" r="3.0"/><circle cx="946.1" cy="369.2" r="3.0"/><circle cx="945.5" cy="371.7" r="3.0"/><circle cx="945.7" cy="374.1" r="3.0"/><circle cx="945.4" cy="376.4" r="3.0"/><circle cx="945.1" cy="377.7" r="3.0"/><circle cx="944.8" cy="377.2" r="3.0"/><circle cx="942.7" cy="378.6" r="3.0"/><circle cx="941.6" cy="378.0" r="3.0"/><circle cx="941.2" cy="378.3" r="3.0"/><circle cx="940.1" cy="376.3" r="3.0"/><circle cx="939.6" cy="374.8" r="3.0"/><circle cx="938.8" cy="372.6" r="3.0"/><circle cx="934.0" cy="373.6" r="3.0"/><circle cx="932.9" cy="375.7" r="3.0"/><circle cx="932.0" cy="377.9" r="3.0"/><circle cx="931.7" cy="380.2" r="3.0"/><circle cx="932.1" cy="380.0" r="3.0"/><circle cx="931.7" cy="379.3" r="3.0"/><circle cx="930.2" cy="379.7" r="3.0"/><circle cx="926.0" cy="377.8" r="3.0"/><circle cx="924.8" cy="377.8" r="3.0"/><circle cx="922.5" cy="377.7" r="3.0"/><circle cx="922.4" cy="377.8" r="3.0"/><circle cx="922.8" cy="376.8" r="3.0"/><circle cx="918.5" cy="374.1" r="3.0"/><circle cx="917.3" cy="373.7" r="3.0"/><circle cx="915.5" cy="372.4" r="3.0"/><circle cx="916.1" cy="371.6" r="3.0"/><circle cx="914.7" cy="369.2" r="3.0"/><circle cx="913.3" cy="367.4" r="3.0"/><circle cx="912.3" cy="365.1" r="3.0"/><circle cx="911.0" cy="363.2" r="3.0"/><circle cx="909.6" cy="361.5" r="3.0"/><circle cx="903.9" cy="359.3" r="3.0"/><circle cx="902.1" cy="362.7" r="3.0"/><circle cx="902.0" cy="365.0" r="3.0"/><circle cx="901.2" cy="367.2" r="3.0"/><circle cx="902.3" cy="370.0" r="3.0"/><circle cx="901.6" cy="372.3" r="3.0"/><circle cx="901.4" cy="374.6" r="3.0"/><circle cx="901.7" cy="376.3" r="3.0"/><circle cx="901.3" cy="378.6" r="3.0"/><circle cx="900.5" cy="378.5" r="3.0"/><circle cx="900.3" cy="379.4" r="3.0"/><circle cx="898.0" cy="379.6" r="3.0"/><circle cx="896.9" cy="379.6" r="3.0"/><circle cx="897.1" cy="378.6" r="3.0"/><circle cx="895.4" cy="376.9" r="3.0"/><circle cx="895.2" cy="375.9" r="3.0"/><circle cx="895.6" cy="373.6" r="3.0"/><circle cx="896.3" cy="372.8" r="3.0"/><circle cx="897.9" cy="369.1" r="3.0"/><circle cx="896.8" cy="366.8" r="3.0"/><circle cx="896.7" cy="364.5" r="3.0"/><circle cx="896.3" cy="362.2" r="3.0"/><circle cx="896.6" cy="359.9" r="3.0"/><circle cx="896.0" cy="357.6" r="3.0"/><circle cx="895.9" cy="355.3" r="3.0"/><circle cx="896.4" cy="353.2" r="3.0"/><circle cx="896.7" cy="350.9" r="3.0"/><circle cx="896.6" cy="348.6" r="3.0"/><circle cx="895.5" cy="346.3" r="3.0"/><circle cx="895.9" cy="344.0" r="3.0"/><circle cx="896.6" cy="341.7" r="3.0"/></g>
<polygon points="886.6,423.3 886.3,422.6 888.6,422.5 890.9,422.4 893.2,422.2 894.9,422.4 895.5,422.6 895.7,423.0 896.0,425.2 895.9,427.1 895.9,429.4 895.8,431.7 895.5,433.6 895.9,434.3 894.3,435.9 891.6,437.9 891.0,440.1 890.3,442.2 890.4,442.3 889.7,442.9 887.4,442.7 887.6,442.1 887.7,441.5 887.4,439.2 887.2,437.2 887.1,434.9 887.1,432.6 887.0,430.3 887.0,428.0 887.1,425.9 887.2,423.6" fill="#FDB50A" stroke="#FDB50A" stroke-width="2.5" stroke-linejoin="round"/>
<g fill="#FDB50A"><circle cx="886.9" cy="423.5" r="3.0"/><circle cx="886.3" cy="422.9" r="3.0"/><circle cx="888.6" cy="422.8" r="3.0"/><circle cx="890.9" cy="422.0" r="3.0"/><circle cx="893.2" cy="422.3" r="3.0"/><circle cx="894.9" cy="422.3" r="3.0"/><circle cx="895.5" cy="422.7" r="3.0"/><circle cx="896.0" cy="422.9" r="3.0"/><circle cx="896.3" cy="425.2" r="3.0"/><circle cx="896.0" cy="427.1" r="3.0"/><circle cx="896.1" cy="429.4" r="3.0"/><circle cx="895.8" cy="431.7" r="3.0"/><circle cx="895.9" cy="433.7" r="3.0"/><circle cx="896.2" cy="434.6" r="3.0"/><circle cx="894.2" cy="435.8" r="3.0"/><circle cx="891.7" cy="437.9" r="3.0"/><circle cx="890.9" cy="440.1" r="3.0"/><circle cx="890.1" cy="442.2" r="3.0"/><circle cx="890.5" cy="442.4" r="3.0"/><circle cx="889.7" cy="443.2" r="3.0"/><circle cx="887.5" cy="442.5" r="3.0"/><circle cx="887.6" cy="442.0" r="3.0"/><circle cx="887.8" cy="441.4" r="3.0"/><circle cx="887.5" cy="439.2" r="3.0"/><circle cx="887.6" cy="437.2" r="3.0"/><circle cx="887.0" cy="434.9" r="3.0"/><circle cx="887.3" cy="432.6" r="3.0"/><circle cx="886.9" cy="430.3" r="3.0"/><circle cx="887.1" cy="428.0" r="3.0"/><circle cx="887.2" cy="425.9" r="3.0"/><circle cx="887.1" cy="423.6" r="3.0"/></g>
<g fill="#FDB50A"><circle cx="841.4" cy="204.3" r="3.25"/><circle cx="834.5" cy="225.3" r="3.25"/><circle cx="836.4" cy="235.6" r="3.25"/><circle cx="834.5" cy="266.2" r="3.25"/><circle cx="840.4" cy="271.5" r="3.25"/><circle cx="868.4" cy="294.6" r="3.25"/><circle cx="861.4" cy="346.5" r="3.25"/><circle cx="870.3" cy="351.5" r="3.25"/><circle cx="861.4" cy="370.8" r="3.25"/><circle cx="836.4" cy="377.1" r="3.25"/><circle cx="886.5" cy="364.4" r="3.25"/><circle cx="884.6" cy="372" r="3.25"/><circle cx="894.4" cy="378.5" r="3.25"/><circle cx="832.4" cy="388.8" r="3.25"/><circle cx="849.5" cy="387.4" r="3.25"/><circle cx="861.7" cy="395" r="3.25"/><circle cx="862.4" cy="398.4" r="3.25"/><circle cx="869.3" cy="394.1" r="3.25"/><circle cx="861.4" cy="407.4" r="3.25"/><circle cx="861.2" cy="419.3" r="3.25"/><circle cx="862.2" cy="421.6" r="3.25"/><circle cx="863.1" cy="423.6" r="3.25"/><circle cx="836.3" cy="430.3" r="3.25"/><circle cx="861.4" cy="431.7" r="3.25"/><circle cx="849" cy="437.7" r="3.25"/><circle cx="862.5" cy="437.9" r="3.25"/><circle cx="863.4" cy="442.2" r="3.25"/><circle cx="861.2" cy="446.4" r="3.25"/><circle cx="867.4" cy="449.8" r="3.25"/><circle cx="866" cy="458.4" r="3.25"/><circle cx="869.6" cy="460.9" r="3.25"/><circle cx="880.1" cy="457.9" r="3.25"/><circle cx="858.9" cy="456.5" r="3.25"/><circle cx="858.9" cy="464.1" r="3.25"/><circle cx="868.4" cy="472" r="3.25"/><circle cx="869.3" cy="482.2" r="3.25"/><circle cx="869.6" cy="491.3" r="3.25"/><circle cx="881.3" cy="481.7" r="3.25"/><circle cx="881.3" cy="485.5" r="3.25"/><circle cx="894.4" cy="468.4" r="3.25"/><circle cx="892.2" cy="493.2" r="3.25"/><circle cx="892.6" cy="492.7" r="3.25"/><circle cx="894.6" cy="405.5" r="3.25"/><circle cx="895.4" cy="405.4" r="3.25"/><circle cx="899.3" cy="388.4" r="3.25"/><circle cx="904.3" cy="395.2" r="3.25"/><circle cx="901.4" cy="424.2" r="3.25"/><circle cx="900.3" cy="443.3" r="3.25"/><circle cx="886.6" cy="364" r="3.25"/><circle cx="899.2" cy="386.3" r="3.25"/><circle cx="951.5" cy="379.8" r="3.25"/><circle cx="918.4" cy="390.3" r="3.25"/><circle cx="922.5" cy="396.5" r="3.25"/><circle cx="924.5" cy="398.5" r="3.25"/><circle cx="926.3" cy="397" r="3.25"/><circle cx="923.7" cy="400" r="3.25"/><circle cx="931.2" cy="384" r="3.25"/><circle cx="931.6" cy="387.3" r="3.25"/><circle cx="931.3" cy="390.6" r="3.25"/><circle cx="931.7" cy="394" r="3.25"/><circle cx="931.4" cy="397.4" r="3.25"/><circle cx="922.6" cy="383.3" r="3.25"/><circle cx="925.2" cy="385.3" r="3.25"/><circle cx="923.6" cy="386.8" r="3.25"/><circle cx="926.2" cy="382.8" r="3.25"/><circle cx="921.6" cy="385.2" r="3.25"/><circle cx="925.3" cy="405.7" r="3.25"/><circle cx="927" cy="407.8" r="3.25"/><circle cx="928.6" cy="409.7" r="3.25"/><circle cx="939.6" cy="397" r="3.25"/><circle cx="942.1" cy="399.5" r="3.25"/><circle cx="955.4" cy="394.4" r="3.25"/><circle cx="952.3" cy="410.8" r="3.25"/><circle cx="951.3" cy="379.6" r="3.25"/><circle cx="924.7" cy="423.8" r="3.25"/><circle cx="941.1" cy="431" r="3.25"/><circle cx="953.1" cy="431.7" r="3.25"/><circle cx="923.4" cy="433.8" r="3.25"/><circle cx="953.3" cy="440.8" r="3.25"/><circle cx="925.3" cy="441.5" r="3.25"/><circle cx="925.4" cy="445.2" r="3.25"/><circle cx="925.0" cy="448.3" r="3.25"/><circle cx="923.7" cy="435.8" r="3.25"/><circle cx="947.2" cy="446.8" r="3.25"/><circle cx="952.4" cy="446.2" r="3.25"/><circle cx="952.5" cy="449.3" r="3.25"/><circle cx="952.4" cy="452.3" r="3.25"/><circle cx="927.3" cy="457.3" r="3.25"/><circle cx="936.5" cy="460.3" r="3.25"/><circle cx="898.9" cy="461.6" r="3.25"/><circle cx="900.4" cy="464.6" r="3.25"/><circle cx="895.3" cy="468.2" r="3.25"/><circle cx="902.5" cy="472" r="3.25"/><circle cx="914" cy="471" r="3.25"/><circle cx="923" cy="468" r="3.25"/><circle cx="925" cy="466" r="3.25"/><circle cx="926.7" cy="464.5" r="3.25"/><circle cx="926.5" cy="474.3" r="3.25"/><circle cx="907.2" cy="480.3" r="3.25"/><circle cx="917.6" cy="482.2" r="3.25"/><circle cx="947.3" cy="485.5" r="3.25"/><circle cx="948.6" cy="483" r="3.25"/><circle cx="949.3" cy="481" r="3.25"/><circle cx="937.2" cy="489.2" r="3.25"/><circle cx="904.3" cy="492.4" r="3.25"/><circle cx="918.1" cy="491.9" r="3.25"/><circle cx="932.4" cy="492.7" r="3.25"/><circle cx="953.4" cy="494.4" r="3.25"/><circle cx="898.2" cy="378.6" r="3.25"/><circle cx="896" cy="378.0" r="3.25"/><circle cx="900.5" cy="379.0" r="3.25"/><circle cx="899.4" cy="388.3" r="3.25"/></g>
<line x1="839.4" x2="955.3" y1="498.3" y2="498.3" stroke="#C38FD2" stroke-width="6.6" stroke-linecap="round"/>
<path d="M882.5 407.4V498.9M884.6 414.3V498.9M910.4 383.4V498.9M911.3 390.3V498.9M938.2 383.7V498.9M941.5 371.3V498.9M946.5 383.4V498.9M945.4 407.5V498.9M945.1 277.5V498.9M942.6 474.3V498.9M838.8 483V496" stroke="#C38FD2" stroke-width="1.45" stroke-opacity="0.68" fill="none"/>
<path d="M861.1 468V498.9M860.8 462V498.9M861.4 458V498.9M861.1 487V498.9M882.4 408V498.9M882.7 408V498.9M884.5 415V498.9M884.8 415V498.9M910.6 384V498.9M911.1 391V498.9M945.3 408V498.9M945.6 384V498.9M941.5 372V498.9" stroke="#C38FD2" stroke-width="1.45" stroke-opacity="0.68" fill="none"/>
<g fill="#C38FD2"><circle cx="882.5" cy="407.4" r="2.85"/><circle cx="884.6" cy="414.3" r="2.85"/><circle cx="910.4" cy="383.4" r="2.85"/><circle cx="911.3" cy="390.3" r="2.85"/><circle cx="938.2" cy="383.7" r="2.85"/><circle cx="941.5" cy="371.3" r="2.85"/><circle cx="946.5" cy="383.4" r="2.85"/><circle cx="945.4" cy="407.5" r="2.85"/><circle cx="945.1" cy="277.5" r="2.85"/><circle cx="912" cy="481.5" r="2.85"/><circle cx="907.6" cy="486.1" r="2.85"/><circle cx="908.9" cy="489.7" r="2.85"/><circle cx="922.5" cy="490.2" r="2.85"/><circle cx="942.6" cy="474.3" r="2.85"/><circle cx="955.6" cy="489.2" r="2.85"/><circle cx="861.2" cy="486.5" r="2.85"/><circle cx="861.3" cy="455.6" r="3.0"/><circle cx="860.6" cy="458.5" r="3.0"/><circle cx="862.2" cy="460" r="3.0"/><circle cx="861" cy="462.5" r="3.0"/><circle cx="862" cy="465" r="3.0"/><circle cx="861.2" cy="467.2" r="3.0"/><circle cx="832.0" cy="480.4" r="3.0"/><circle cx="833.2" cy="481.6" r="3.0"/><circle cx="834.4" cy="480.6" r="3.0"/><circle cx="835.6" cy="482.0" r="3.0"/><circle cx="836.8" cy="481.0" r="3.0"/><circle cx="838" cy="482.2" r="3.0"/><circle cx="838.8" cy="481.4" r="3.0"/><circle cx="833.0" cy="480.0" r="3.0"/><circle cx="837.4" cy="482.4" r="3.0"/></g>
<g fill="#C38FD2"><circle cx="866" cy="495.8" r="2.7"/><circle cx="873" cy="496.2" r="2.7"/><circle cx="889" cy="495.5" r="2.7"/><circle cx="897" cy="495.8" r="2.7"/><circle cx="906.5" cy="493" r="2.7"/><circle cx="909" cy="492" r="2.7"/><circle cx="910.5" cy="494.5" r="2.7"/><circle cx="921" cy="495" r="2.7"/><circle cx="923" cy="494" r="2.7"/><circle cx="929" cy="495.6" r="2.7"/><circle cx="939" cy="495" r="2.7"/><circle cx="943" cy="494.6" r="2.7"/><circle cx="947" cy="495.2" r="2.7"/></g>
<line x1="832.0" x2="948.6" y1="118.45" y2="118.45" stroke="#660066" stroke-width="6.8" stroke-linecap="round"/>
<g fill="#660066"><circle cx="951.6" cy="118.45" r="3.4"/><circle cx="955.1" cy="118.45" r="3.4"/></g>
<line x1="121.95" x2="989.05" y1="124.86" y2="124.86" stroke="#000" stroke-width="2.1"/>
<polyline points="544.6,480.6 831.5,480.6 831.5,499.5 957.5,499.5" fill="none" stroke="#000" stroke-width="2.8" stroke-dasharray="2.78 4.58"/>
<circle cx="544.6" cy="480.6" r="2.1"/><circle cx="831.5" cy="480.6" r="2.1"/><circle cx="831.5" cy="499.5" r="2.1"/>
<line x1="961.6" x2="961.6" y1="124.85" y2="115.4" stroke="#000" stroke-width="2.8"/>
<line x1="961.6" x2="961.6" y1="124.85" y2="502.4" stroke="#000" stroke-width="2.8" stroke-dasharray="10.28 4.44"/>
<circle cx="961.6" cy="499.2" r="1.9"/>
<g transform="translate(971.2 135.2) rotate(90)"><text x="-1.56" y="0.00" font-size="24.6" textLength="39.08" lengthAdjust="spacingAndGlyphs">Now</text></g>
<rect x="121.95" y="111.85" width="867.10" height="391.10" fill="none" stroke="#000" stroke-width="2.1"/>
<path d="M112.20 498.90H121.95M112.20 423.90H121.95M112.20 348.90H121.95M112.20 273.90H121.95M112.20 198.90H121.95M112.20 124.86H121.95M121.95 502.95V512.70M232.94 502.95V512.70M343.93 502.95V512.70M454.93 502.95V512.70M565.92 502.95V512.70M676.91 502.95V512.70M787.90 502.95V512.70M898.89 502.95V512.70" stroke="#000" stroke-width="2.1" fill="none"/>
<path d="M116.35 461.40H121.95M116.35 386.40H121.95M116.35 311.40H121.95M116.35 236.40H121.95M116.35 161.40H121.95M135.82 502.95V508.95M149.70 502.95V508.95M163.57 502.95V508.95M177.45 502.95V508.95M191.32 502.95V508.95M205.19 502.95V508.95M219.07 502.95V508.95M246.82 502.95V508.95M260.69 502.95V508.95M274.56 502.95V508.95M288.44 502.95V508.95M302.31 502.95V508.95M316.19 502.95V508.95M330.06 502.95V508.95M357.81 502.95V508.95M371.68 502.95V508.95M385.56 502.95V508.95M399.43 502.95V508.95M413.30 502.95V508.95M427.18 502.95V508.95M441.05 502.95V508.95M468.80 502.95V508.95M482.67 502.95V508.95M496.55 502.95V508.95M510.42 502.95V508.95M524.30 502.95V508.95M538.17 502.95V508.95M552.04 502.95V508.95M579.79 502.95V508.95M593.67 502.95V508.95M607.54 502.95V508.95M621.41 502.95V508.95M635.29 502.95V508.95M649.16 502.95V508.95M663.04 502.95V508.95M690.78 502.95V508.95M704.66 502.95V508.95M718.53 502.95V508.95M732.41 502.95V508.95M746.28 502.95V508.95M760.15 502.95V508.95M774.03 502.95V508.95M801.78 502.95V508.95M815.65 502.95V508.95M829.52 502.95V508.95M843.40 502.95V508.95M857.27 502.95V508.95M871.15 502.95V508.95M885.02 502.95V508.95M912.77 502.95V508.95M926.64 502.95V508.95M940.52 502.95V508.95M954.39 502.95V508.95M968.26 502.95V508.95M982.14 502.95V508.95" stroke="#000" stroke-width="1.7" fill="none"/>
<text x="86.88" y="507.70" font-size="25.0" textLength="15.64" lengthAdjust="spacingAndGlyphs">0</text>
<text x="71.92" y="432.70" font-size="25.0" textLength="30.60" lengthAdjust="spacingAndGlyphs">20</text>
<text x="72.77" y="357.70" font-size="25.0" textLength="29.73" lengthAdjust="spacingAndGlyphs">40</text>
<text x="71.92" y="282.70" font-size="25.0" textLength="30.60" lengthAdjust="spacingAndGlyphs">60</text>
<text x="72.07" y="207.70" font-size="25.0" textLength="30.45" lengthAdjust="spacingAndGlyphs">80</text>
<text x="56.22" y="133.66" font-size="25.0" textLength="46.35" lengthAdjust="spacingAndGlyphs">100</text>
<text x="90.91" y="541.10" font-size="25.0" textLength="62.10" lengthAdjust="spacingAndGlyphs">1996</text>
<text x="202.62" y="541.10" font-size="25.0" textLength="61.23" lengthAdjust="spacingAndGlyphs">2000</text>
<text x="313.61" y="541.10" font-size="25.0" textLength="61.09" lengthAdjust="spacingAndGlyphs">2004</text>
<text x="424.60" y="541.10" font-size="25.0" textLength="61.37" lengthAdjust="spacingAndGlyphs">2008</text>
<text x="535.58" y="541.10" font-size="25.0" textLength="61.66" lengthAdjust="spacingAndGlyphs">2012</text>
<text x="646.58" y="541.10" font-size="25.0" textLength="61.37" lengthAdjust="spacingAndGlyphs">2016</text>
<text x="757.58" y="541.10" font-size="25.0" textLength="61.23" lengthAdjust="spacingAndGlyphs">2020</text>
<text x="868.57" y="541.10" font-size="25.0" textLength="61.09" lengthAdjust="spacingAndGlyphs">2024</text>
<text x="202.17" y="42.60" font-size="32.0" font-weight="bold" textLength="334.15" lengthAdjust="spacingAndGlyphs">Observed/Expected</text><text x="547.14" y="42.60" font-size="32.0" font-weight="bold" textLength="121.83" lengthAdjust="spacingAndGlyphs">BeiDou</text><text x="680.47" y="42.60" font-size="32.0" font-weight="bold" textLength="227.80" lengthAdjust="spacingAndGlyphs">Observations</text>
<text x="304.24" y="87.50" font-size="29.4" textLength="163.33" lengthAdjust="spacingAndGlyphs">FRA200UKR</text><text x="476.38" y="87.50" font-size="29.4" textLength="11.28" lengthAdjust="spacingAndGlyphs">-</text><text x="495.34" y="87.50" font-size="29.4" textLength="159.33" lengthAdjust="spacingAndGlyphs">ROB-EUREF</text><text x="666.26" y="87.50" font-size="29.4" textLength="60.18" lengthAdjust="spacingAndGlyphs">data</text><text x="737.38" y="87.50" font-size="29.4" textLength="69.00" lengthAdjust="spacingAndGlyphs">node</text>
<text x="529.34" y="575.70" font-size="26.2" textLength="52.96" lengthAdjust="spacingAndGlyphs">Year</text>
<g transform="translate(38.3 477.6) rotate(-90)"><text x="-1.21" y="0.00" font-size="26.2" textLength="102.98" lengthAdjust="spacingAndGlyphs">Obs/Exp</text><text x="110.34" y="0.00" font-size="26.2" textLength="165.09" lengthAdjust="spacingAndGlyphs">Observations</text><text x="284.78" y="0.00" font-size="26.2" textLength="41.87" lengthAdjust="spacingAndGlyphs">(%)</text></g>
<text x="35.28" y="709.80" font-size="19.2" font-style="italic" textLength="30.91" lengthAdjust="spacingAndGlyphs">Sat</text><text x="73.57" y="709.80" font-size="19.2" font-style="italic" textLength="36.14" lengthAdjust="spacingAndGlyphs">Mar</text><text x="117.21" y="709.80" font-size="19.2" font-style="italic" textLength="23.97" lengthAdjust="spacingAndGlyphs">21</text><text x="148.15" y="709.80" font-size="19.2" font-style="italic" textLength="85.03" lengthAdjust="spacingAndGlyphs">12:55:22</text><text x="241.71" y="709.80" font-size="19.2" font-style="italic" textLength="48.09" lengthAdjust="spacingAndGlyphs">2026</text>
<text x="837.41" y="709.80" font-size="19.2" font-style="italic" textLength="132.03" lengthAdjust="spacingAndGlyphs">©GNSS@ROB</text>
<rect x="36.4" y="597.9" width="950.0" height="80.0" rx="4" ry="4" fill="#fff" stroke="#d2d2d2" stroke-width="2.7"/>
<circle cx="58.5" cy="618.1" r="4.3" fill="#FFCB47"/>
<circle cx="58.5" cy="654.5" r="4.3" fill="#FDB50A"/>
<text x="72.86" y="625.60" font-size="25.0" textLength="52.42" lengthAdjust="spacingAndGlyphs">BDS</text><text x="133.77" y="625.60" font-size="25.0" textLength="24.80" lengthAdjust="spacingAndGlyphs">1f</text>
<text x="72.86" y="662.20" font-size="25.0" textLength="52.42" lengthAdjust="spacingAndGlyphs">BDS</text><text x="133.58" y="662.20" font-size="25.0" textLength="45.85" lengthAdjust="spacingAndGlyphs">2+f</text>
<line x1="221.3" x2="246.8" y1="618.1" y2="618.1" stroke="#D3AEDF" stroke-width="1.4"/><circle cx="233.5" cy="618.2" r="4.1" fill="#C38FD2"/>
<text x="247.80" y="625.60" font-size="25.0" textLength="44.22" lengthAdjust="spacingAndGlyphs">obs</text><text x="300.56" y="625.60" font-size="25.0" textLength="37.90" lengthAdjust="spacingAndGlyphs">ele</text>
<line x1="379.8" x2="406.0" y1="618.2" y2="618.2" stroke="#000" stroke-width="2.7" stroke-dasharray="2.78 4.58"/><circle cx="393.0" cy="618.2" r="2.5"/>
<text x="407.04" y="625.60" font-size="25.0" textLength="38.10" lengthAdjust="spacingAndGlyphs">log</text><text x="453.47" y="625.60" font-size="25.0" textLength="37.79" lengthAdjust="spacingAndGlyphs">ele</text>
<circle cx="545.7" cy="618.1" r="4.3" fill="#8A84C4"/>
<text x="560.57" y="625.60" font-size="25.0" textLength="91.45" lengthAdjust="spacingAndGlyphs">RINEX2</text>
<circle cx="707.8" cy="618.1" r="4.3" fill="#660066"/>
<text x="721.26" y="625.60" font-size="25.0" textLength="92.23" lengthAdjust="spacingAndGlyphs">RINEX3</text>
<circle cx="868.5" cy="618.1" r="4.3" fill="#200A2C"/>
<text x="883.06" y="625.60" font-size="25.0" textLength="92.07" lengthAdjust="spacingAndGlyphs">RINEX4</text>
</svg>
</body></html>
